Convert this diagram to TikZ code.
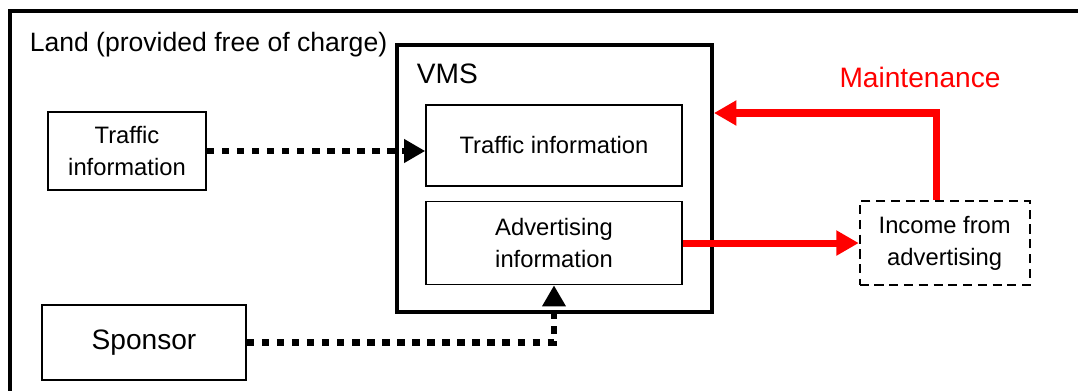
\documentclass[tikz,border=0pt]{standalone}
\usepackage{fontspec}
\setmainfont{Liberation Sans}
\usepackage{xcolor}
\definecolor{maintred}{RGB}{255,0,0}
\usepackage{tikz}
\usetikzlibrary{arrows.meta, positioning, calc}

\begin{document}
\begin{tikzpicture}[
    >=Stealth,
    smallfont/.style={font=\fontsize{16.9}{22.8}\selectfont},
    bigfont/.style={font=\fontsize{20}{24}\selectfont},
    infonode/.style={draw, rectangle, line width=1.1pt, align=center, inner sep=0pt, smallfont},
    sponsornode/.style={draw, rectangle, line width=1.1pt, align=center, inner sep=0pt, bigfont},
    incomenode/.style={draw, rectangle, line width=1.3pt, dash pattern=on 6.5pt off 4pt, align=center, inner sep=0pt, smallfont},
    vmsnode/.style={draw, rectangle, line width=2.8pt, inner sep=0pt},
    dotarrow/.style={line width=4.9pt, dash pattern=on 5.3pt off 5.4pt, -{Triangle[length=15pt, width=16pt]}},
    redarrow/.style={draw=maintred, line width=5pt, -{Triangle[length=16pt, width=17pt]}}
  ]

  \useasboundingbox (0,0) rectangle (26.95,9.75);
  % land frame, runs off the right and bottom
  \draw[line width=2.8pt] (0.25,-1) rectangle (28,9.475);
  \node (land) [anchor=base west, font=\fontsize{18.9}{22}\selectfont] at (0.62,8.45) {Land (provided free of charge)};

  \node (vms) [vmsnode, minimum width=7.875cm, minimum height=6.675cm] at (13.8625,5.2875) {};
  \node (vmslabel) [bigfont, anchor=base west] at (10.3,7.65) {VMS};

  \node (trafin) [infonode, minimum width=6.4cm, minimum height=2.025cm] at (13.85,6.1125) {Traffic information};
  \node (adinfo) [infonode, minimum width=6.4cm, minimum height=2.075cm, below=0.35cm of trafin] {Advertising\\information};

  \node (trafsrc) [infonode, minimum width=3.95cm, minimum height=1.95cm] at (3.175,5.975) {Traffic\\information};
  \node (sponsor) [sponsornode, minimum width=5.1cm, minimum height=1.875cm] at (3.6,1.1875) {Sponsor};

  \node (income) [incomenode, minimum width=4.25cm, minimum height=2.1cm, right=4.4cm of adinfo] {Income from\\advertising};
  \node (maint) [bigfont, text=maintred, anchor=base] at (23.0,7.55) {Maintenance};

  \draw[dotarrow] (trafsrc.east) -- (trafsrc.east -| trafin.west);
  \draw[dotarrow] (sponsor.east) -| (adinfo.south);
  \draw[redarrow] (adinfo.east) -- (income.west);
  \draw[redarrow] ([xshift=-0.2cm]income.north) |- (vms.east |- 0,6.925);

\end{tikzpicture}
\end{document}
